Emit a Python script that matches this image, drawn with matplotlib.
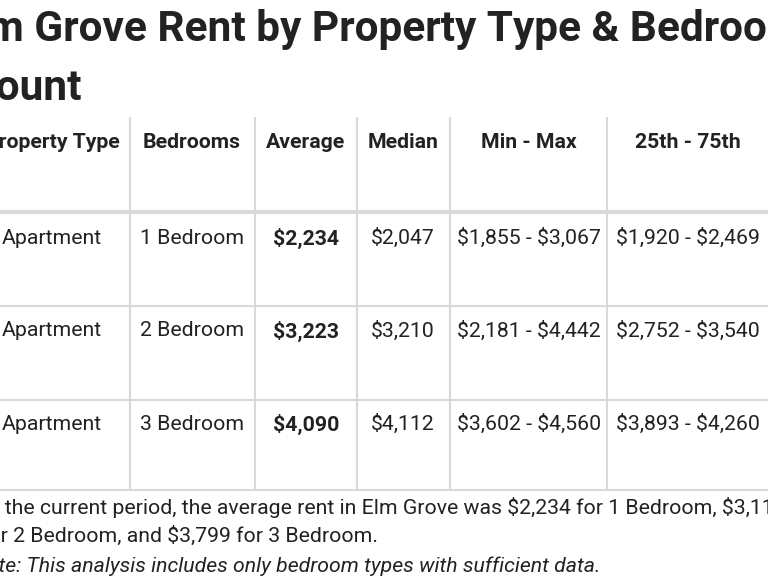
import matplotlib
matplotlib.use("Agg")
import matplotlib.pyplot as plt
from matplotlib.lines import Line2D

plt.rcParams['font.family'] = ['Roboto', 'DejaVu Sans']
plt.rcParams['text.parse_math'] = False

title_lines = ["Elm Grove Rent by Property Type & Bedroom", "Count"]
headers = ["Property Type", "Bedrooms", "Average", "Median", "Min - Max", "25th - 75th"]
prop_types = ["Apartment", "Apartment", "Apartment"]
bedrooms = ["1 Bedroom", "2 Bedroom", "3 Bedroom"]
averages = ["$2,234", "$3,223", "$4,090"]
medians = ["$2,047", "$3,210", "$4,112"]
min_max = ["$1,855 - $3,067", "$2,181 - $4,442", "$3,602 - $4,560"]
p25_75 = ["$1,920 - $2,469", "$2,752 - $3,540", "$3,893 - $4,260"]
footer = ["In the current period, the average rent in Elm Grove was $2,234 for 1 Bedroom, $3,118",
          "for 2 Bedroom, and $3,799 for 3 Bedroom."]
note = "Note: This analysis includes only bedroom types with sufficient data."

W, H = 768, 576
fig = plt.figure(figsize=(7.68, 5.76), dpi=100)
ax = fig.add_axes([0, 0, 1, 1])
ax.set_xlim(0, W); ax.set_ylim(H, 0); ax.axis('off')

ax.text(-48, 30, title_lines[0], fontsize=30.5, fontweight='bold', color='#222222', va='center', ha='left')
ax.text(-32, 88, title_lines[1], fontsize=30.5, fontweight='bold', color='#222222', va='center', ha='left')

centers = [52, 192, 306, 403, 529, 688]
vlines = [130, 255, 357, 450, 607]
top, hdr_bot = 118, 212
row_bots = [306, 400, 490]
grey = '#d9d9d9'

for x in vlines:
    ax.add_line(Line2D([x, x], [top, row_bots[-1]], color=grey, lw=1.5))
ax.add_line(Line2D([-5, W + 5], [hdr_bot, hdr_bot], color=grey, lw=3))
for y in row_bots:
    ax.add_line(Line2D([-5, W + 5], [y, y], color=grey, lw=1.5))

fs = 15.3
for c, h in zip(centers, headers):
    ax.text(c, 143, h, fontsize=fs, fontweight='bold', color='#222222', ha='center', va='center')

row_y = [238, 331, 424]
cols = [prop_types, bedrooms, averages, medians, min_max, p25_75]
for i, y in enumerate(row_y):
    for j, col in enumerate(cols):
        ax.text(centers[j], y, col[i], fontsize=fs, color='#222222', ha='center', va='center',
                fontweight='bold' if j == 2 else 'normal')

ax.text(-18, 507, footer[0], fontsize=fs, color='#222222', va='center', ha='left')
ax.text(-19, 536, footer[1], fontsize=fs, color='#222222', va='center', ha='left')
ax.text(-28, 566, note, fontsize=fs, color='#222222', va='center', ha='left', style='italic')

fig.savefig("out.png", dpi=100)
